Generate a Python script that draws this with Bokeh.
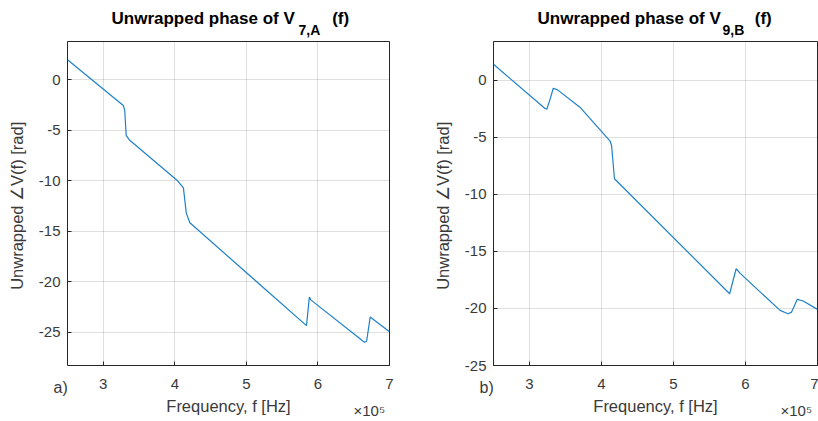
from bokeh.plotting import figure
from bokeh.layouts import row
from bokeh.models import Range1d, FixedTicker, Title
from bokeh.embed import file_html
from bokeh.resources import INLINE

# ---- data (frequency in Hz, unwrapped phase in rad) ----
freq_a = [2.50e5, 3.28e5, 3.30e5, 3.32e5, 3.37e5, 4.03e5, 4.12e5, 4.16e5, 4.21e5,
          5.84e5, 5.88e5, 5.90e5, 6.65e5, 6.68e5, 6.73e5, 7.00e5]
phase_a = [2.00, -2.54, -3.03, -5.50, -5.99, -9.94, -10.70, -13.20, -14.16,
           -24.35, -21.52, -21.80, -26.00, -25.90, -23.50, -24.95]

freq_b = [2.50e5, 3.22e5, 3.24e5, 3.28e5, 3.33e5, 3.39e5, 3.70e5, 4.07e5, 4.12e5,
          4.14e5, 4.18e5, 5.78e5, 5.87e5, 5.93e5, 6.48e5, 6.59e5, 6.64e5, 6.72e5,
          6.80e5, 7.00e5]
phase_b = [1.40, -2.49, -2.54, -1.78, -0.70, -0.84, -2.36, -4.99, -5.34,
           -5.72, -8.63, -18.71, -16.52, -16.95, -20.17, -20.46, -20.32, -19.20,
           -19.35, -20.08]

x_ticks = [3e5, 4e5, 5e5, 6e5, 7e5]
x_tick_labels = ["3", "4", "5", "6", "7"]
y_ticks = [0, -5, -10, -15, -20, -25]
y_tick_labels = ["0", "-5", "-10", "-15", "-20", "-25"]

title_main_a = "Unwrapped phase of V\u2003\u2003\u2009(f)"
title_sub_a = "7,A"
title_main_b = "Unwrapped phase of V\u2003\u2003(f)"
title_sub_b = "9,B"
xlabel = "Frequency, f [Hz]"
ylabel = "Unwrapped  \u2220V(f) [rad]"
exponent = "\u00d710\u2075"
panel_a = "a)"
panel_b = "b)"

FONT = "Liberation Sans"
DARK = "#262626"
TXT = "#3a3a3a"
LINE = "#1f80c8"


def make_panel(xs, ys, ylim, width, bl, br, main, sub, panel, main_off, sub_off, exp_off):
    p = figure(width=width, height=421, x_range=Range1d(2.5e5, 7e5),
               y_range=Range1d(*ylim), output_backend="svg",
               toolbar_location=None, min_border_left=bl, min_border_right=br,
               min_border_top=41, min_border_bottom=56)
    p.background_fill_color = "white"
    p.border_fill_color = "white"
    p.outline_line_color = DARK
    p.outline_line_width = 1
    p.outline_line_alpha = 1

    p.xaxis.ticker = FixedTicker(ticks=x_ticks)
    p.xaxis.major_label_overrides = {t: l for t, l in zip(x_ticks, x_tick_labels)}
    p.yaxis.ticker = FixedTicker(ticks=y_ticks)
    p.yaxis.major_label_overrides = {t: l for t, l in zip(y_ticks, y_tick_labels)}
    for ax in (p.xaxis, p.yaxis):
        ax.axis_line_color = None
        ax.major_tick_in = 4
        ax.major_tick_out = 0
        ax.major_tick_line_color = DARK
        ax.minor_tick_line_color = None
        ax.major_label_text_font = FONT
        ax.major_label_text_font_size = "15px"
        ax.major_label_text_color = TXT
        ax.axis_label_text_font = FONT
        ax.axis_label_text_font_size = "16.5px"
        ax.axis_label_text_font_style = "normal"
        ax.axis_label_text_color = TXT
    p.xaxis.axis_label = xlabel
    p.yaxis.axis_label = ylabel
    p.xaxis.major_label_standoff = 13
    p.yaxis.major_label_standoff = 7
    p.xaxis.axis_label_standoff = 5
    p.yaxis.axis_label_standoff = 10

    p.grid.grid_line_color = DARK
    p.grid.grid_line_alpha = 0.15
    p.grid.minor_grid_line_color = None

    p.line(xs, ys, line_color=LINE, line_width=1.2)

    # title: subscript row (closest to frame) and main row above it
    p.add_layout(Title(text=sub, align="left", offset=sub_off, standoff=7,
                       vertical_align="bottom", text_font=FONT,
                       text_font_size="14px", text_font_style="bold",
                       text_color="black"), "above")
    p.add_layout(Title(text=main, align="left", offset=main_off, standoff=-23,
                       vertical_align="bottom", text_font=FONT,
                       text_font_size="17px", text_font_style="bold",
                       text_color="black"), "above")
    # exponent and panel letter below the axis
    p.add_layout(Title(text=exponent, align="left", offset=exp_off, standoff=-31,
                       vertical_align="top", text_font=FONT,
                       text_font_size="15px", text_font_style="normal",
                       text_color=TXT), "below")
    p.add_layout(Title(text=panel, align="left", offset=-14, standoff=-77,
                       vertical_align="top", text_font=FONT,
                       text_font_size="16px", text_font_style="normal",
                       text_color=TXT), "below")
    return p


pa = make_panel(freq_a, phase_a, (-28.3, 3.8), 410, 67, 21,
                title_main_a, title_sub_a, panel_a, 44, 231, 286)
pb = make_panel(freq_b, phase_b, (-25.0, 3.4), 408, 83, 1,
                title_main_b, title_sub_b, panel_b, 44, 229, 287)

layout = row(pa, pb, spacing=0)
open("out.html", "w").write(file_html(layout, INLINE))
